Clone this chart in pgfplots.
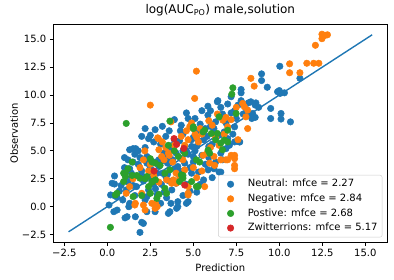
\documentclass[border=0pt]{standalone}
\usepackage{fontspec}
\setmainfont{DejaVu Sans}
\usepackage{pgfplots}
\pgfplotsset{compat=1.18}
\definecolor{c0}{HTML}{1F77B4}
\definecolor{c1}{HTML}{FF7F0E}
\definecolor{c2}{HTML}{2CA02C}
\definecolor{c3}{HTML}{D62728}
\begin{document}
\begin{tikzpicture}
\begin{axis}[
  scale only axis, width=334pt, height=218pt,
  xmin=-3.14, xmax=16.28, ymin=-3.19, ymax=16.34,
  xtick={-2.5,0,2.5,5,7.5,10,12.5,15},
  xticklabels={−2.5,0.0,2.5,5.0,7.5,10.0,12.5,15.0},
  ytick={-2.5,0,2.5,5,7.5,10,12.5,15},
  yticklabels={−2.5,0.0,2.5,5.0,7.5,10.0,12.5,15.0},
  tick align=outside, tick pos=left, major tick length=3.5pt,
  tick style={black, line width=0.8pt},
  axis line style={line width=0.8pt},
  ticklabel style={font=\fontsize{10}{12}\selectfont},
  label style={font=\fontsize{10}{12}\selectfont},
  ylabel style={yshift=-3pt},
  title={log(AUC\textsubscript{PO}) male,solution},
  title style={font=\fontsize{12}{14}\selectfont, at={(0.5,1)}, anchor=base, yshift=4.3pt},
  xlabel={Prediction}, ylabel={Observation},
  legend cell align=left,
  legend image code/.code={\path (-9.5pt,0pt) (15pt,0pt); \draw[#1] plot coordinates {(0pt,0pt)};},
  legend style={at={(1,0)}, anchor=south east, xshift=-5pt, yshift=5pt,
    draw=black!20, rounded corners=2pt, fill=white,
    font=\fontsize{10}{12}\selectfont, row sep=1.5pt, inner sep=2.5pt,
    nodes={inner sep=2pt, text height=7.3pt, text depth=1.8pt}},
  every axis plot/.append style={only marks, mark=*, mark size=3.25pt},
]
\addplot[c0, mark options={draw=c0, fill=c0, line width=0.5pt}] coordinates {
(0.1,0.15)(0.19,1.05)(0.45,0.95)(0.55,0.9)(0.42,2.75)(0.42,2.03)(0.28,2.1)(0.38,-0.45)(0.57,-0.3)(1.03,-1.0)(1.15,-0.9)(1.63,-0.9)(1.25,0.0)(1.3,0.3)(1.9,-2.3)(2.3,-0.45)(2.78,-0.45)(3.55,-0.6)(3.64,-0.45)(4.03,-0.15)(4.1,0.0)(4.6,0.3)(2.1,-1.5)(2.0,-1.4)(3.7,0.3)(4.1,0.45)(4.7,0.45)
(0.7,1.4)(0.8,1.9)(0.9,0.6)(1.1,1.5)(1.2,2.2)(1.4,3.0)(1.3,3.4)(1.5,4.0)(1.6,4.7)(1.65,5.2)(1.8,5.0)(1.4,2.6)(1.6,1.0)(1.8,3.8)(1.9,4.4)(1.7,1.8)(1.0,3.5)(1.2,4.2)(1.5,5.2)(1.0,4.4)(1.3,5.1)
(2.2,7.0)(2.78,6.9)(2.4,6.1)(2.2,5.3)(2.3,4.5)(2.5,3.5)(2.6,2.5)(2.4,1.5)(2.2,0.6)(2.7,5.8)(2.8,4.0)(2.9,3.0)(2.7,2.0)(2.9,1.1)(2.5,6.4)(2.0,3.2)(2.1,2.3)(2.3,0.9)(2.85,0.3)(2.0,6.3)
(3.2,7.2)(3.4,6.3)(3.1,5.6)(3.3,4.8)(3.5,3.9)(3.2,3.0)(3.6,2.3)(3.3,1.3)(3.1,0.3)(3.7,5.1)(3.8,4.2)(3.9,3.4)(3.4,2.7)(3.6,6.8)(3.9,7.8)(3.0,4.2)(3.15,2.0)(3.75,1.5)(3.45,0.8)(3.9,6.0)
(4.7,7.9)(4.3,7.3)(4.4,6.5)(4.2,5.9)(4.6,5.0)(4.3,4.3)(4.8,3.5)(4.2,2.8)(4.6,2.0)(4.4,1.0)(4.9,6.0)(4.7,4.7)(4.9,3.0)(4.1,3.6)(4.5,3.9)(4.0,2.1)(4.8,1.4)(4.25,6.8)(4.6,8.4)(4.9,5.4)
(5.85,9.0)(5.85,8.2)(5.1,7.9)(5.4,7.4)(5.3,6.8)(5.6,6.0)(5.2,5.4)(5.5,4.6)(5.7,3.8)(5.3,3.1)(5.6,2.4)(5.2,1.3)(5.8,6.3)(5.1,5.0)(5.9,4.4)(5.4,2.0)(5.7,7.0)(5.0,4.0)(5.5,8.6)(5.9,5.4)
(6.43,9.5)(6.4,9.4)(6.6,8.9)(6.7,8.3)(6.3,7.6)(6.2,7.0)(6.5,6.4)(6.1,5.6)(6.6,4.8)(6.3,4.0)(5.86,3.3)(6.6,3.1)(6.5,3.1)(6.9,5.2)(6.1,2.6)(6.8,6.7)(6.9,7.5)(6.0,8.6)(6.2,3.4)(6.7,4.2)
(7.78,10.5)(7.78,10.2)(7.2,9.85)(7.78,9.5)(7.4,8.6)(7.0,9.2)(7.2,8.4)(7.5,7.9)(7.4,7.15)(7.3,6.5)(7.68,5.8)(7.1,5.5)(7.4,5.8)(7.7,5.8)(7.0,6.1)(7.9,8.3)(7.6,9.1)
(8.97,11.9)(8.97,11.3)(8.35,9.4)(8.64,9.3)(8.8,8.9)(8.45,8.35)(8.2,8.2)(8.4,7.9)(8.6,8.0)(8.2,9.3)(8.6,9.1)(8.1,8.7)
(10.03,12.58)(11.2,11.5)(9.3,10.7)(10.0,10.4)(10.3,10.2)(10.05,10.15)(9.5,8.8)(10.1,8.35)(10.1,7.85)(10.65,7.6)(9.5,7.9)(9.9,10.3)
(1.5,1.9)(2.0,2.8)(2.5,3.0)(3.0,3.6)(3.5,4.4)(4.0,4.8)(4.5,5.4)(5.0,6.2)(5.5,6.8)(6.0,7.2)(2.3,3.9)(3.2,4.1)(3.8,5.5)(4.4,5.0)(5.3,5.9)(6.2,6.6)(2.8,1.6)(3.5,2.9)(4.2,3.2)(5.0,4.5)
};
\addlegendentry{Neutral: mfce = 2.27}
\addplot[c1, mark options={draw=c1, fill=c1, line width=0.5pt}] coordinates {
(12.48,15.45)(12.67,15.35)(12.48,15.05)(12.1,14.46)(12.8,15.4)
(10.6,12.8)(10.6,12.0)(11.6,12.85)(12.0,12.85)(12.3,12.85)(11.2,12.0)
(8.35,11.5)(8.54,10.8)(5.18,12.14)(2.5,9.1)(5.08,9.7)(3.7,7.6)(7.87,9.25)(7.97,8.95)(8.16,8.65)(8.06,8.05)(8.16,7.0)
(7.4,4.6)(7.4,3.4)(7.0,4.2)(6.6,4.2)(6.9,4.2)(7.2,4.6)(7.4,4.3)(7.4,3.7)(6.24,3.7)(5.95,3.9)(5.66,1.8)(5.57,4.6)
(4.7,1.8)(4.7,1.2)(3.74,2.1)(3.84,2.4)(3.16,4.5)(3.55,4.8)(2.59,0.3)(2.78,-0.15)(2.8,0.3)(2.9,0.0)(1.6,0.15)(2.2,-0.3)(2.0,1.2)
(2.93,6.17)(2.97,6.1)(5.0,7.0)(5.3,5.8)(5.1,6.5)(5.2,6.2)(6.1,7.3)(6.72,7.75)(7.0,7.15)(7.6,6.0)
(4.5,5.5)(4.6,6.8)(4.8,7.2)(4.9,7.5)(5.4,7.0)(4.7,6.0)(4.3,6.3)(5.5,6.5)
(3.2,5.8)(3.4,5.3)(3.6,4.6)(3.8,4.0)(3.3,4.2)(3.9,5.5)(3.0,5.1)
(2.1,4.2)(2.18,5.0)(2.5,3.8)(2.7,2.8)(3.0,2.2)(2.4,3.2)(1.9,3.5)(1.5,2.5)(1.3,1.8)(1.1,1.2)
(4.0,3.0)(4.2,2.5)(4.5,3.3)(4.4,4.2)(5.0,3.5)(5.2,2.6)(5.5,3.2)(5.8,4.8)(6.0,5.3)(6.3,6.2)(6.5,5.5)(6.8,6.5)(6.2,4.5)
(5.9,7.7)(6.4,8.3)(7.2,7.8)(7.5,8.9)(6.9,8.0)
(1.63,0.3)(2.1,0.15)(3.45,2.4)(4.0,2.1)(4.7,1.05)
};
\addlegendentry{Negative: mfce = 2.84}
\addplot[c2, mark options={draw=c2, fill=c2, line width=0.5pt}] coordinates {
(1.1,7.46)(0.18,-1.85)(7.3,10.65)(7.24,10.08)(5.0,7.0)(3.64,7.67)(5.28,1.8)(5.18,1.8)(3.45,1.2)(2.88,0.75)(2.4,1.8)(2.6,2.2)(4.4,2.8)(4.4,2.55)(4.9,2.25)
(0.47,1.05)(0.57,1.2)(1.05,3.0)(0.95,2.25)(1.44,2.8)(1.9,2.55)(2.3,2.7)(1.5,0.9)(2.0,1.0)(2.5,1.2)(3.0,1.1)(2.6,2.25)(2.8,2.4)(4.3,2.85)(3.35,1.65)
(5.57,6.7)(6.3,6.0)(3.55,5.5)(3.9,5.0)(4.13,4.5)(2.5,4.3)(2.6,4.0)(2.8,3.9)(3.07,3.7)(1.44,4.0)(1.2,3.4)(1.05,2.7)(1.72,2.8)(2.2,2.5)(3.35,3.0)(3.64,3.3)(4.2,2.25)(5.18,4.2)(5.37,4.0)(5.95,4.8)(6.7,5.1)(6.6,5.7)(4.5,4.8)
(6.5,8.05)(5.66,6.85)(6.05,6.56)(6.4,6.56)(7.0,6.85)(6.8,5.97)(7.0,5.8)(7.49,8.35)(5.86,5.07)(5.0,7.15)(0.95,3.0)
};
\addlegendentry{Postive: mfce = 2.68}
\addplot[c3, mark options={draw=c3, fill=c3, line width=0.5pt}] coordinates {
(3.88,6.1)(4.03,5.58)(4.45,5.22)(2.72,3.19)(4.5,1.94)
};
\addlegendentry{Zwitterrions: mfce = 5.17}
\addplot[c0, no marks, sharp plot, line width=1.4pt, forget plot] coordinates {(-2.25,-2.25)(15.4,15.4)};
\end{axis}
\pgfresetboundingbox
\path ([shift={(-53.3pt,-37.7pt)}]current axis.south west) rectangle ([shift={(6.7pt,24.3pt)}]current axis.north east);
\end{tikzpicture}
\end{document}
